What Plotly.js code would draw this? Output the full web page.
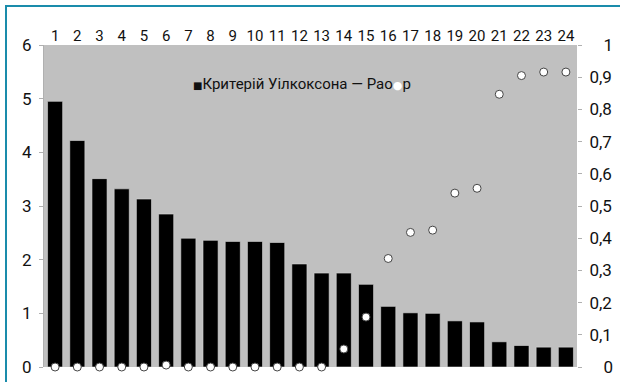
<!DOCTYPE html>
<html>
<head>
<meta charset="utf-8">
<script src="https://cdn.plot.ly/plotly-3.0.1.min.js"></script>
<style>
html,body{margin:0;padding:0;background:#fff;}
#wrap{position:absolute;left:0;top:0;width:620px;height:382px;overflow:hidden;}
#frame{position:absolute;left:5px;top:5px;width:700px;height:500px;border-left:2px solid #1a8cab;border-top:2px solid #1a8cab;}
#chart{position:absolute;left:0;top:0;width:620px;height:382px;}
</style>
</head>
<body>
<div id="wrap"><div id="frame"></div><div id="chart"></div></div>
<script>
const categories = ["1","2","3","4","5","6","7","8","9","10","11","12","13","14","15","16","17","18","19","20","21","22","23","24"];
const wilcoxonRao = [4.95, 4.22, 3.51, 3.32, 3.13, 2.85, 2.40, 2.36, 2.34, 2.34, 2.32, 1.92, 1.75, 1.75, 1.54, 1.13, 1.01, 1.00, 0.86, 0.84, 0.47, 0.40, 0.37, 0.37];
const pValues = [0, 0, 0, 0, 0, 0.006, 0, 0, 0, 0, 0, 0, 0, 0.056, 0.155, 0.337, 0.418, 0.425, 0.54, 0.555, 0.847, 0.905, 0.916, 0.916];
const leftTicks = [0,1,2,3,4,5,6];
const rightTickVals = [0,0.1,0.2,0.3,0.4,0.5,0.6,0.7,0.8,0.9,1];
const rightTickText = ["\u2007\u20080","0,1","0,2","0,3","0,4","0,5","0,6","0,7","0,8","0,9","\u2007\u20081"];
const seriesNames = ["Критерій Уілкоксона — Рао", "р"];

const font = {family: "Roboto, 'DejaVu Sans', sans-serif", color: "#111", size: 16};

const traces = [
  {type: "bar", x: categories, y: wilcoxonRao, name: seriesNames[0],
   marker: {color: "#000", line: {color: "#d8d8d8", width: 0.6}}, yaxis: "y", xaxis: "x", showlegend: false},
  {type: "scatter", mode: "markers", x: categories, y: pValues, name: seriesNames[1],
   marker: {color: "#fff", size: 8, line: {color: "#444", width: 1}}, yaxis: "y2", xaxis: "x", showlegend: false, cliponaxis: false}
];

const layout = {
  width: 620, height: 382,
  margin: {l: 44, r: 43, t: 45, b: 15, autoexpand: false},
  paper_bgcolor: "rgba(0,0,0,0)",
  plot_bgcolor: "#c0c0c0",
  font: font,
  separators: ", ",
  bargap: 0.32,
  showlegend: false,
  xaxis: {type: "category", range: [-0.5, categories.length - 0.5], side: "top", showgrid: false, zeroline: false, showline: false, automargin: false,
          ticks: "", tickfont: {family: font.family, size: 15, color: "#111"}, fixedrange: true},
  yaxis: {range: [0, 6], tickvals: leftTicks, showgrid: false, zeroline: false, showline: true, automargin: false,
          linecolor: "#b0b0b0", linewidth: 1, ticks: "outside", ticklen: 4, tickcolor: "#b0b0b0",
          tickfont: {family: font.family, size: 17, color: "#111"}, ticklabelstandoff: 4},
  yaxis2: {range: [0, 1], overlaying: "y", side: "right", tickvals: rightTickVals, ticktext: rightTickText, automargin: false,
           showgrid: false, zeroline: false, showline: false, ticks: "outside", ticklen: 4, tickcolor: "#b0b0b0",
           tickfont: {family: font.family, size: 17, color: "#111"}, ticklabelstandoff: 4},
  annotations: [
    {xref: "paper", yref: "paper", x: 0.276, y: 0.878, xanchor: "left", yanchor: "middle", showarrow: false,
     text: "<span style='font-size:10px'>■</span>" + seriesNames[0] + "<span style='font-size:11px;color:#ffffff'>●</span>" + seriesNames[1],
     font: {family: font.family, size: 15, color: "#111"}}
  ]
};

Plotly.newPlot("chart", traces, layout, {displayModeBar: false, staticPlot: true});
</script>
</body>
</html>
